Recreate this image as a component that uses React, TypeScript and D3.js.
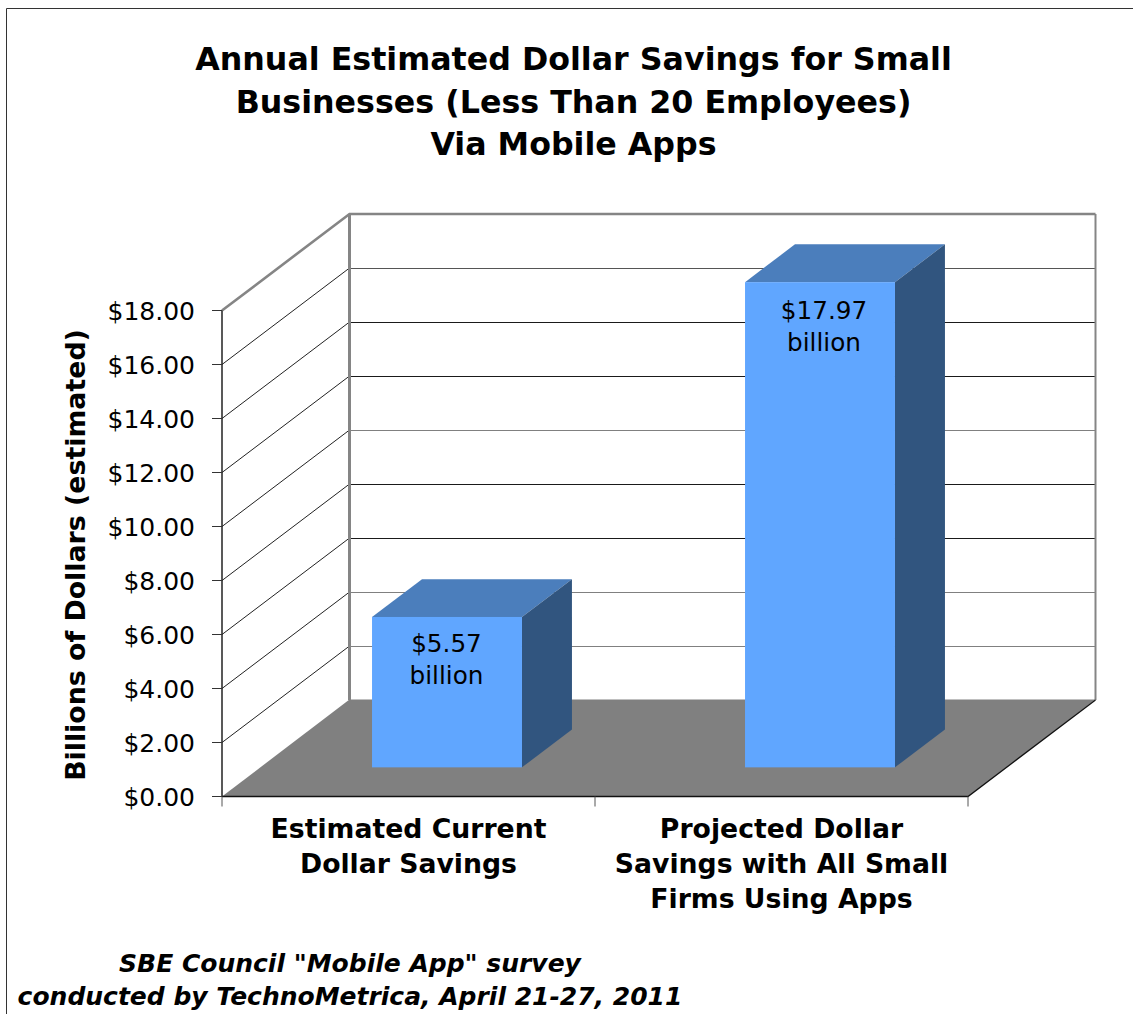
import React from "react";
import * as d3 from "d3";

const categories = ["current", "projected"];
const values = [5.57, 17.97];
const valueLabels = [["$5.57", "billion"], ["$17.97", "billion"]];
const categoryLines = [
  ["Estimated Current", "Dollar Savings"],
  ["Projected Dollar", "Savings with All Small", "Firms Using Apps"],
];
const ticks = [0, 2, 4, 6, 8, 10, 12, 14, 16, 18];
const grayGridTicks = [2, 4, 10];
const titleLines = [
  "Annual Estimated Dollar Savings for Small",
  "Businesses (Less Than 20 Employees)",
  "Via Mobile Apps",
];
const yTitle = "Billions of Dollars (estimated)";
const footerLines = ['SBE Council "Mobile App" survey', "conducted by TechnoMetrica, April 21-27, 2011"];

const FONT = "'DejaVu Sans', Verdana, sans-serif";

export default function App() {
  const x0 = 222, x1 = 968, yBase = 796.5, yTop = 310.5;
  const dx = 127.5, dy = 96.5;
  const y = d3.scaleLinear().domain([0, 18]).range([yBase, yTop]);
  const band = d3.scaleBand().domain(categories).range([x0, x1]).paddingInner(0.598).paddingOuter(0.299);
  const depthStart = 0.302, depthSize = 0.392;
  const wallGray = "#858585";
  const labelShift = [-0.5, 4];
  const labelDrop = [35, 37];
  const barPaths = categories.map((c, i) => {
    const l = band(c)! + dx * depthStart;
    const w = band.bandwidth();
    const b = yBase - dy * depthStart;
    const t = b - (yBase - y(values[i]));
    const ox = dx * depthSize, oy = dy * depthSize;
    return { l, w, b, t, ox, oy };
  });
  return (
    <svg width={1133} height={1014} viewBox="0 0 1133 1014" style={{ position: "absolute", left: 0, top: 0, fontFamily: FONT }}>
      <rect width={1133} height={1014} fill="#fff" />
      <path d={`M6.5,1014V8.5H1133`} fill="none" stroke="#333" strokeWidth={1} />

      {titleLines.map((t, i) => (
        <text key={t} x={573.5} y={70 + i * 42.5} textAnchor="middle" fontSize={31.7} fontWeight="bold" fill="#000">{t}</text>
      ))}

      <path d={`M${x0},${yBase}L${x0 + dx},${yBase - dy - 0.5}H${x1 + dx}L${x1},${yBase}Z`} fill="#808080" />
      {ticks.slice(1, -1).map((t) => {
        const c = grayGridTicks.includes(t) ? "#808080" : t === 16 ? "#555" : "#1a1a1a";
        return (
          <g key={t}>
            <line x1={x0} y1={y(t)} x2={x0 + dx} y2={y(t) - dy} stroke="#222" strokeWidth={1} />
            <line x1={x0 + dx} x2={x1 + dx} y1={y(t) - dy + 0.5} y2={y(t) - dy + 0.5} stroke={c} strokeWidth={1} shapeRendering="crispEdges" />
          </g>
        );
      })}
      <path d={`M${x0},${yTop}L${x0 + dx},${yTop - dy}H${x1 + dx}`} fill="none" stroke={wallGray} strokeWidth={2.6} />
      <path d={`M${x0 + dx},${yTop - dy}V${yBase - dy}`} fill="none" stroke={wallGray} strokeWidth={3} />
      <path d={`M${x1 + dx},${yTop - dy}V${yBase - dy}`} fill="none" stroke={wallGray} strokeWidth={2} />
      <path d={`M${x0},${yBase}H${x1}L${x1 + dx},${yBase - dy}`} fill="none" stroke="#111" strokeWidth={1.3} />
      <path d={`M${x0},${yTop}V${yBase}`} fill="none" stroke="#222" strokeWidth={1.5} />
      {ticks.map((t) => (
        <line key={t} x1={x0 - 10} x2={x0} y1={y(t)} y2={y(t)} stroke="#333" strokeWidth={1} />
      ))}
      {[x0, (x0 + x1) / 2, x1].map((v) => (
        <line key={v} x1={v} x2={v} y1={yBase} y2={yBase + 10} stroke="#555" strokeWidth={1} />
      ))}

      {barPaths.map(({ l, w, b, t, ox, oy }, i) => (
        <g key={i}>
          <path d={`M${l},${t}L${l + ox},${t - oy}H${l + w + ox}L${l + w},${t}Z`} fill="#4b7ebc" />
          <path d={`M${l + w},${t}L${l + w + ox},${t - oy}V${b - oy}L${l + w},${b}Z`} fill="#31557f" />
          <rect x={l} y={t} width={w} height={b - t} fill="#60a6ff" />
          {valueLabels[i].map((s, j) => (
            <text key={j} x={l + w / 2 + labelShift[i]} y={t + labelDrop[i] + j * 32} textAnchor="middle" fontSize={24.7} fill="#000">{s}</text>
          ))}
        </g>
      ))}

      {ticks.map((t) => (
        <text key={t} x={195} y={y(t) + 9} textAnchor="end" fontSize={25} fill="#000">{d3.format("$.2f")(t)}</text>
      ))}
      <text transform="translate(84.5,555) rotate(-90)" textAnchor="middle" fontSize={26.8} fontWeight="bold" fill="#000">{yTitle}</text>

      {categoryLines.map((lines, i) =>
        lines.map((s, j) => (
          <text key={s} x={band(categories[i])! + band.bandwidth() / 2} y={838 + j * 35} textAnchor="middle" fontSize={26.7} fontWeight="bold" fill="#000">{s}</text>
        ))
      )}

      {footerLines.map((s, i) => (
        <text key={s} x={350} y={972 + i * 33} textAnchor="middle" fontSize={25} fontWeight="bold" fontStyle="italic" fill="#000">{s}</text>
      ))}
    </svg>
  );
}
